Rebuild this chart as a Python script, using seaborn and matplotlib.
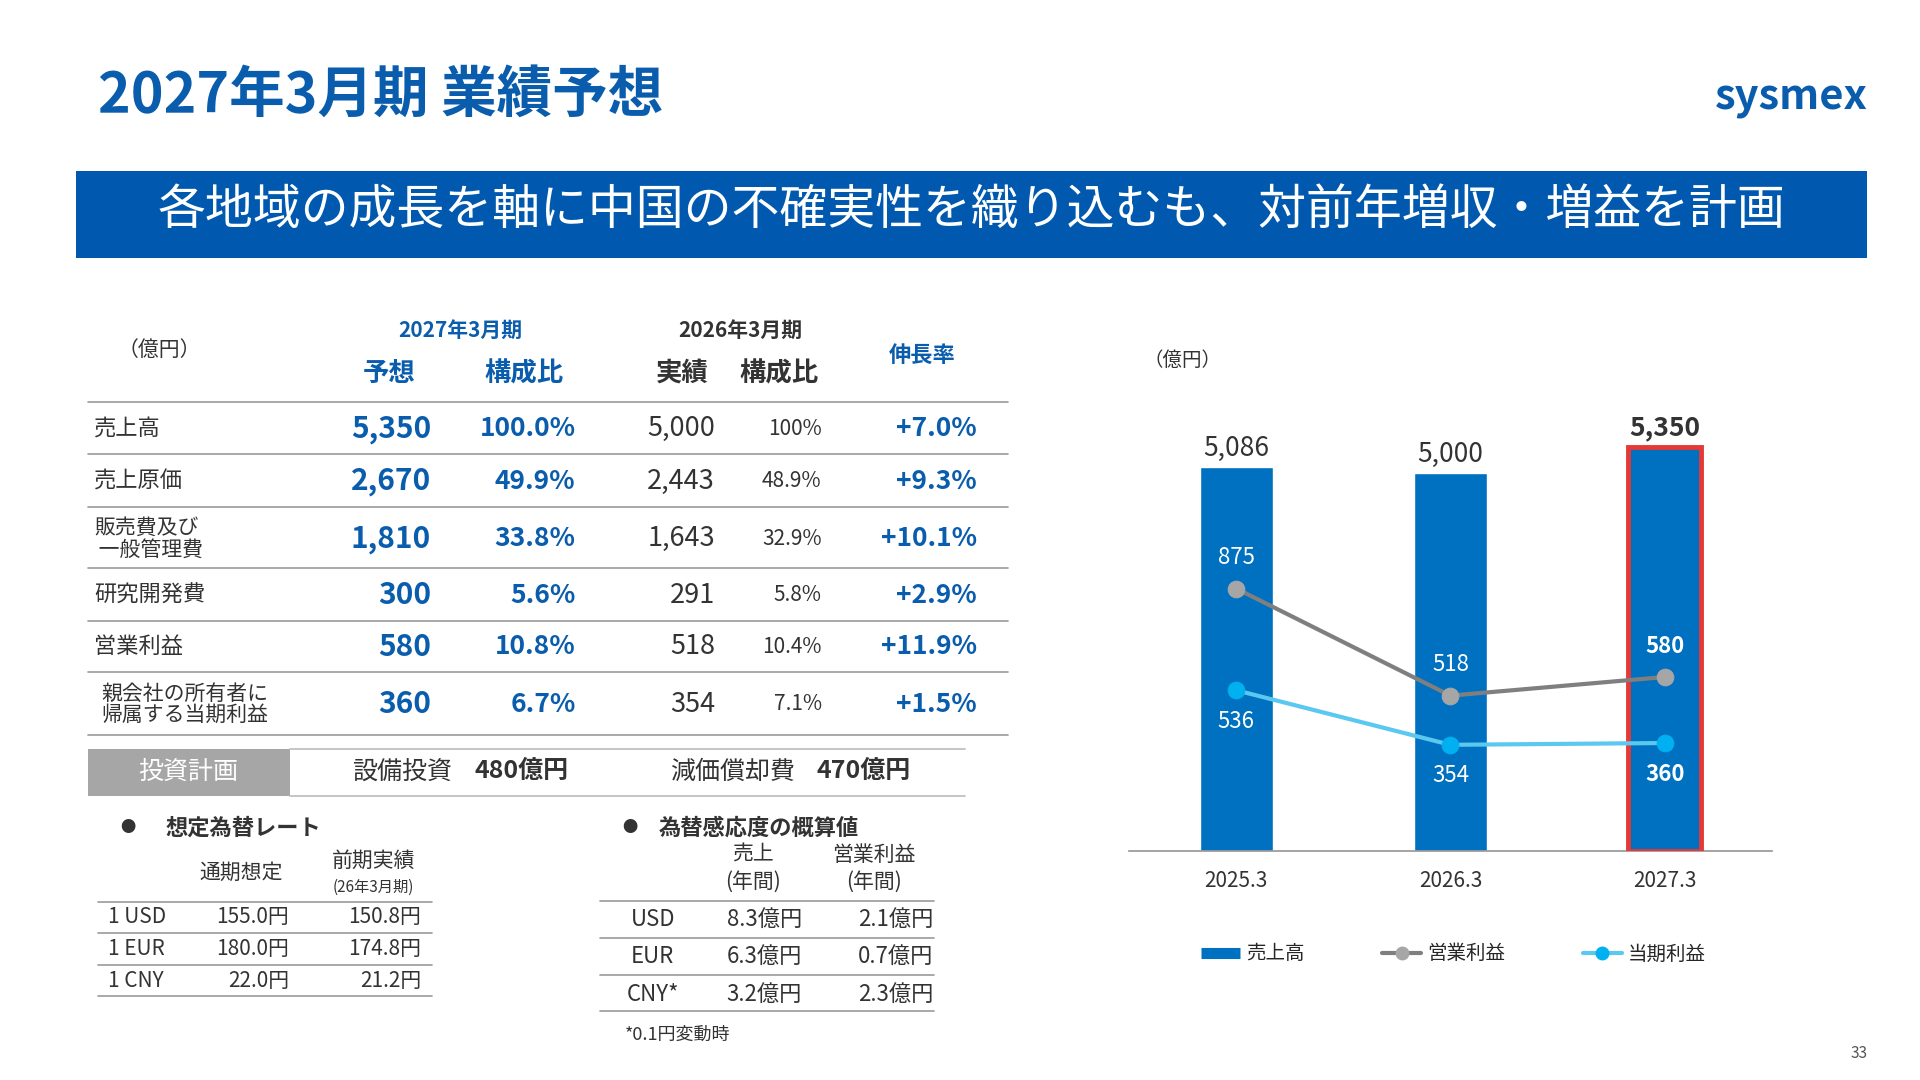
import matplotlib
matplotlib.use("Agg")
import matplotlib.pyplot as plt
import matplotlib.patches as mpatches
from matplotlib.lines import Line2D
import seaborn as sns
import pandas as pd

sns.set_theme(style="white")
plt.rcParams['font.family'] = ['Noto Sans CJK JP', 'DejaVu Sans']

# ---- データ ----
years = ["2025.3", "2026.3", "2027.3"]
sales = [5086, 5000, 5350]
op_profit = [875, 518, 580]
net_profit = [536, 354, 360]

row_labels = ["売上高", "売上原価", "販売費及び\n 一般管理費", "研究開発費", "営業利益", "親会社の所有者に\n帰属する当期利益"]
plan_27 = ["5,350", "2,670", "1,810", "300", "580", "360"]
ratio_27 = ["100.0%", "49.9%", "33.8%", "5.6%", "10.8%", "6.7%"]
act_26 = ["5,000", "2,443", "1,643", "291", "518", "354"]
ratio_26 = ["100%", "48.9%", "32.9%", "5.8%", "10.4%", "7.1%"]
growth = ["+7.0%", "+9.3%", "+10.1%", "+2.9%", "+11.9%", "+1.5%"]

fx_cur = ["1 USD", "1 EUR", "1 CNY"]
fx_plan = ["155.0円", "180.0円", "22.0円"]
fx_prev = ["150.8円", "174.8円", "21.2円"]

sens_cur = ["USD", "EUR", "CNY*"]
sens_sales = ["8.3億円", "6.3億円", "3.2億円"]
sens_op = ["2.1億円", "0.7億円", "2.3億円"]

BLUE = "#0A5DAD"
BAR = "#0070C0"
DARK = "#333333"

fig = plt.figure(figsize=(19.2, 10.8), dpi=100)
W, H = 1568.0, 882.0


def T(x, y, s, **kw):
    kw.setdefault("color", DARK)
    kw.setdefault("va", "center")
    fig.text(x / W, 1 - y / H, s, **kw)


def L(x0, x1, y, color="#999999", lw=1.2):
    fig.add_artist(Line2D([x0 / W, x1 / W], [1 - y / H, 1 - y / H], color=color, lw=lw))


# ---- タイトル・バナー ----
T(80, 78, "2027年3月期 業績予想", fontsize=40, fontweight="bold", color=BLUE)
T(1525, 80, "sysmex", fontsize=30, fontweight="bold", color=BLUE, ha="right")
fig.add_artist(mpatches.Rectangle((62 / W, 1 - 211 / H), (1525 - 62) / W, 71 / H,
                                  facecolor="#0059AE", edgecolor="none"))
T(793, 172, "各地域の成長を軸に中国の不確実性を織り込むも、対前年増収・増益を計画",
  fontsize=34.5, color="white", ha="center")
T(1525, 860, "33", fontsize=11, color="#555555", ha="right")

# ---- 業績表 ----
T(130, 286, "（億円）", fontsize=15, ha="center")
T(376, 270, "2027年3月期", fontsize=15, fontweight="bold", color=BLUE, ha="center")
T(318, 305, "予想", fontsize=19, fontweight="bold", color=BLUE, ha="center")
T(428, 305, "構成比", fontsize=19, fontweight="bold", color=BLUE, ha="center")
T(605, 270, "2026年3月期", fontsize=15, fontweight="bold", ha="center")
T(557, 305, "実績", fontsize=19, fontweight="bold", ha="center")
T(636, 305, "構成比", fontsize=19, fontweight="bold", ha="center")
T(753, 290, "伸長率", fontsize=16, fontweight="bold", color=BLUE, ha="center")

row_y = [350, 393, 440, 486, 528, 575]
for y in [328, 371, 414, 464, 507, 549, 600]:
    L(72, 823, y)
for i, y in enumerate(row_y):
    fs = 15 if "\n" in row_labels[i] else 16
    T(77 if i < 5 else 83, y, row_labels[i], fontsize=fs, linespacing=0.95)
    T(352, y, plan_27[i], fontsize=21.5, fontweight="bold", color=BLUE, ha="right")
    T(470, y, ratio_27[i], fontsize=19, fontweight="bold", color=BLUE, ha="right")
    T(584, y, act_26[i], fontsize=19.5, ha="right")
    T(671, y, ratio_26[i], fontsize=15, ha="right")
    T(798, y, growth[i], fontsize=19, fontweight="bold", color=BLUE, ha="right")

# 投資計画
fig.add_artist(mpatches.Rectangle((72 / W, 1 - 650 / H), 165 / W, 38 / H,
                                  facecolor="#A6A6A6", edgecolor="none"))
T(154, 630, "投資計画", fontsize=18, color="white", ha="center")
T(328, 630, "設備投資", fontsize=18, ha="center")
T(426, 630, "480億円", fontsize=18, fontweight="bold", ha="center")
T(598, 630, "減価償却費", fontsize=18, ha="center")
T(705, 630, "470億円", fontsize=18, fontweight="bold", ha="center")
L(237, 788, 612, color="#BBBBBB")
L(237, 788, 650, color="#BBBBBB")

# 想定為替レート
T(98, 676, "●", fontsize=11)
T(135, 676, "想定為替レート", fontsize=16, fontweight="bold")
T(197, 713, "通期想定", fontsize=15, ha="center")
T(305, 703, "前期実績", fontsize=15, ha="center")
T(305, 725, "(26年3月期)", fontsize=11, ha="center")
for y in [737, 762, 788, 813]:
    L(80, 353, y)
for i, y in enumerate([749, 775, 801]):
    T(88, y, fx_cur[i], fontsize=15)
    T(236, y, fx_plan[i], fontsize=15, ha="right")
    T(344, y, fx_prev[i], fontsize=15, ha="right")

# 為替感応度
T(508, 676, "●", fontsize=11)
T(538, 676, "為替感応度の概算値", fontsize=16, fontweight="bold")
T(615, 698, "売上", fontsize=15, ha="center")
T(615, 720, "(年間)", fontsize=15, ha="center")
T(714, 698, "営業利益", fontsize=15, ha="center")
T(714, 720, "(年間)", fontsize=15, ha="center")
for y in [736, 766, 796, 826]:
    L(490, 763, y)
for i, y in enumerate([751, 781, 812]):
    T(533, y, sens_cur[i], fontsize=16, ha="center")
    T(655, y, sens_sales[i], fontsize=16, ha="right")
    T(762, y, sens_op[i], fontsize=16, ha="right")
T(510, 845, "*0.1円変動時", fontsize=13)

# ---- グラフ ----
bottom_px = 695
top_px = 310
ax = fig.add_axes([922 / W, 1 - bottom_px / H, (1447 - 922) / W, (bottom_px - top_px) / H])
df = pd.DataFrame({"year": years, "sales": sales, "op": op_profit, "net": net_profit})
sns.barplot(data=df, x="year", y="sales", color=BAR, width=0.34, saturation=1, ax=ax)
ax.set_xlim(-0.5, 2.5)
ax.set_ylim(0, 5350 * (bottom_px - top_px) / (695 - 365))
for sp in ["top", "right", "left"]:
    ax.spines[sp].set_visible(False)
ax.spines["bottom"].set_color("#999999")
ax.set_yticks([])
ax.set_xlabel("")
ax.set_ylabel("")
ax.tick_params(axis="x", labelsize=15, colors=DARK, length=0, pad=14)
for i, v in enumerate(sales):
    bold = i == 2
    ax.text(i, v + 70, f"{v:,}", ha="center", va="bottom", fontsize=19,
            fontweight="bold" if bold else "normal", color=DARK)
    if bold:
        ax.add_patch(mpatches.Rectangle((i - 0.17, 0), 0.34, v, fill=False,
                                        edgecolor="#E53935", lw=3.5, zorder=5))

ax2 = ax.twinx()
ax2.set_ylim(0, (bottom_px - top_px) / 0.245)
sns.lineplot(x=[0, 1, 2], y=op_profit, color="#7F7F7F", lw=3, marker="o", markersize=12,
             markerfacecolor="#A6A6A6", markeredgecolor="#A6A6A6", ax=ax2, zorder=4)
sns.lineplot(x=[0, 1, 2], y=net_profit, color="#5BC8F0", lw=3, marker="o", markersize=12,
             markerfacecolor="#00B0F0", markeredgecolor="#00B0F0", ax=ax2, zorder=4)
ax2.set_yticks([])
for sp in ax2.spines.values():
    sp.set_visible(False)
for i in range(3):
    fw = "bold" if i == 2 else "normal"
    ax2.text(i, op_profit[i] + 65, str(op_profit[i]), ha="center", va="bottom",
             color="white", fontsize=16, fontweight=fw)
    ax2.text(i, net_profit[i] - 65, str(net_profit[i]), ha="center", va="top",
             color="white", fontsize=16, fontweight=fw)
ax.set_xlim(-0.5, 2.5)
T(966, 294, "（億円）", fontsize=14, ha="center")

handles = [Line2D([], [], color=BAR, lw=8, solid_capstyle="butt"),
           Line2D([], [], color="#7F7F7F", lw=3, marker="o", markersize=9,
                  markerfacecolor="#A6A6A6", markeredgecolor="#A6A6A6"),
           Line2D([], [], color="#5BC8F0", lw=3, marker="o", markersize=9,
                  markerfacecolor="#00B0F0", markeredgecolor="#00B0F0")]
fig.legend(handles, ["売上高", "営業利益", "当期利益"], loc="center",
           bbox_to_anchor=(1187 / W, 1 - 779 / H), ncol=3, frameon=False,
           fontsize=14, handlelength=2, columnspacing=4, handletextpad=0.3)

fig.savefig("out.png", dpi=100)
